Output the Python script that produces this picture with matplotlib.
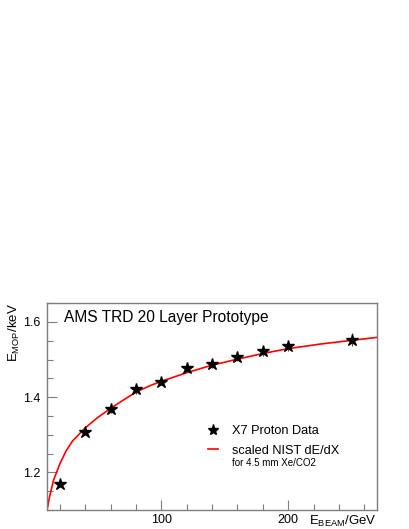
import matplotlib
matplotlib.use("Agg")
import matplotlib.pyplot as plt
from matplotlib.ticker import MultipleLocator, FixedLocator, FormatStrFormatter
from matplotlib.lines import Line2D

plt.rcParams['font.family'] = ['Liberation Sans', 'DejaVu Sans']
plt.rcParams['mathtext.fontset'] = 'custom'
plt.rcParams['mathtext.rm'] = 'Liberation Sans'
plt.rcParams['mathtext.it'] = 'Liberation Sans'

# beam energy (GeV) and most probable energy loss (keV)
beam_energy = [20, 40, 60, 80, 100, 120, 140, 160, 180, 200, 250]
e_mop = [1.168, 1.306, 1.368, 1.421, 1.440, 1.478, 1.489, 1.507, 1.522, 1.535, 1.553]
e_mop_err = [0.006, 0.008, 0.010, 0.013, 0.008, 0.010, 0.012, 0.010, 0.012, 0.012, 0.018]

# scaled NIST dE/dX curve
nist_energy = [10, 12, 15, 20, 25, 30, 40, 50, 60, 70, 80, 90, 100,
               120, 140, 160, 180, 200, 225, 250, 270]
nist_dedx = [1.100, 1.135, 1.178, 1.222, 1.257, 1.283, 1.318, 1.346, 1.370,
             1.392, 1.413, 1.429, 1.442, 1.465, 1.485, 1.501, 1.516, 1.529,
             1.541, 1.551, 1.559]

gray = "#7f7f7f"

fig = plt.figure(figsize=(4.09, 5.29), dpi=100)
ax = fig.add_axes([0.115, 0.036, 0.807, 0.391])

ax.plot(nist_energy, nist_dedx, color="red", lw=1.2, zorder=2)
ax.errorbar(beam_energy, e_mop, yerr=e_mop_err, fmt="none", ecolor="#444444",
            elinewidth=0.8, capsize=0, zorder=3)
ax.plot(beam_energy, e_mop, ls="none", marker="*", ms=9, color="black", zorder=4)

ax.set_xlim(10, 270)
ax.set_ylim(1.1, 1.65)

ax.xaxis.set_major_locator(FixedLocator([100, 200]))
ax.xaxis.set_minor_locator(MultipleLocator(20))
ax.yaxis.set_major_locator(MultipleLocator(0.2))
ax.yaxis.set_minor_locator(MultipleLocator(0.05))
ax.yaxis.set_major_formatter(FormatStrFormatter('%.1f'))

ax.tick_params(which="both", direction="in", color=gray, width=0.8,
               labelsize=9, top=False, right=False)
ax.tick_params(which="major", length=7)
ax.tick_params(which="minor", length=4)
ax.tick_params(axis="x", pad=3)
ax.tick_params(axis="y", pad=4.5)
for s in ax.spines.values():
    s.set_color(gray)
    s.set_linewidth(1.0)

ax.set_xlabel(r"E$_{\mathrm{BEAM}}$/GeV", fontsize=9.5, ha="right", va="top")
ax.xaxis.set_label_coords(1.0, -0.017)
ax.set_ylabel(r"E$_{\mathrm{MOP}}$/keV", fontsize=9.5, ha="right", va="bottom")
ax.yaxis.set_label_coords(-0.075, 1.0)

ax.text(0.05, 0.93, "AMS TRD 20 Layer Prototype", transform=ax.transAxes,
        fontsize=11.2, va="center", ha="left")

handles = [Line2D([], [], ls="none", marker="*", ms=8, color="black"),
           Line2D([], [], color="red", lw=1.2)]
ax.legend(handles, ["X7 Proton Data", "scaled NIST dE/dX"], loc="upper left",
          bbox_to_anchor=(0.488, 0.41), frameon=False, fontsize=9.2,
          handlelength=0.8, handletextpad=1.1, labelspacing=0.6,
          borderaxespad=0, borderpad=0)
ax.text(0.561, 0.228, "for 4.5 mm Xe/CO2", transform=ax.transAxes,
        fontsize=7, va="center", ha="left")

fig.savefig("out.png", dpi=100)
